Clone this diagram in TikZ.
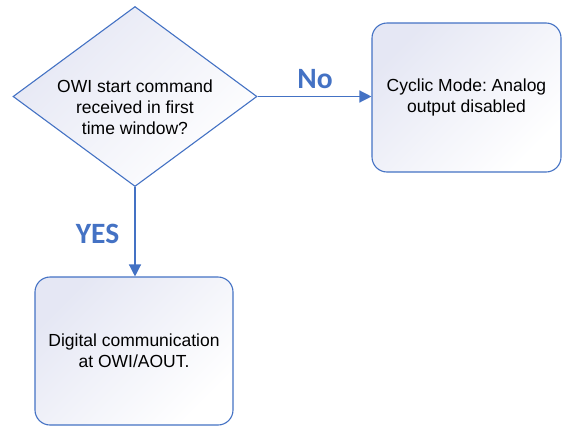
\documentclass[tikz,border=0pt]{standalone}
\usepackage{fontspec}
\setmainfont{Liberation Sans}
\newfontfamily\labelfont{Carlito}
\usetikzlibrary{shapes.geometric,arrows.meta}
\definecolor{obl}{HTML}{4472C4}
\definecolor{lav}{HTML}{E5E7F4}
\frenchspacing
\begin{document}
\begin{tikzpicture}[x=1pt,y=-1pt,
  shapefill/.style={draw=obl, line width=1.1pt, shade, top color=lav, bottom color=white, shading angle=45, inner sep=0pt},
  boxstyle/.style={shapefill, rounded corners=15pt},
  txt/.style={font=\fontsize{17.5}{21}\selectfont, align=center, text=black},
  lbl/.style={font=\labelfont\bfseries\fontsize{29.5}{30}\selectfont, text=obl, inner sep=0pt},
  conn/.style={draw=obl, line width=1.3pt, -{Triangle[length=12pt,width=12pt]}}]
\useasboundingbox (0,0) rectangle (562,426);
\node[shapefill, diamond, minimum width=244pt, minimum height=180pt] (dec) at (135,96.5) {};
\node[txt] (dectext) at (135,107) {OWI start command\\received in first\\time window?};
\node[boxstyle, txt, minimum width=189pt, minimum height=149pt] (cyc) at (466.5,97.5) {Cyclic Mode: Analog\\output disabled};
\node[boxstyle, txt, minimum width=198pt, minimum height=148pt] (dig) at (134,351) {Digital communication\\at OWI/AOUT.};
\draw[conn] (dec.east) -- (dec.east -| cyc.west);
\draw[conn] (dec.south) -- (dec.south |- dig.north);
\node[lbl] (no) at (315,79) {No};
\node[lbl] (yes) at (97.5,234) {YES};
\end{tikzpicture}
\end{document}
